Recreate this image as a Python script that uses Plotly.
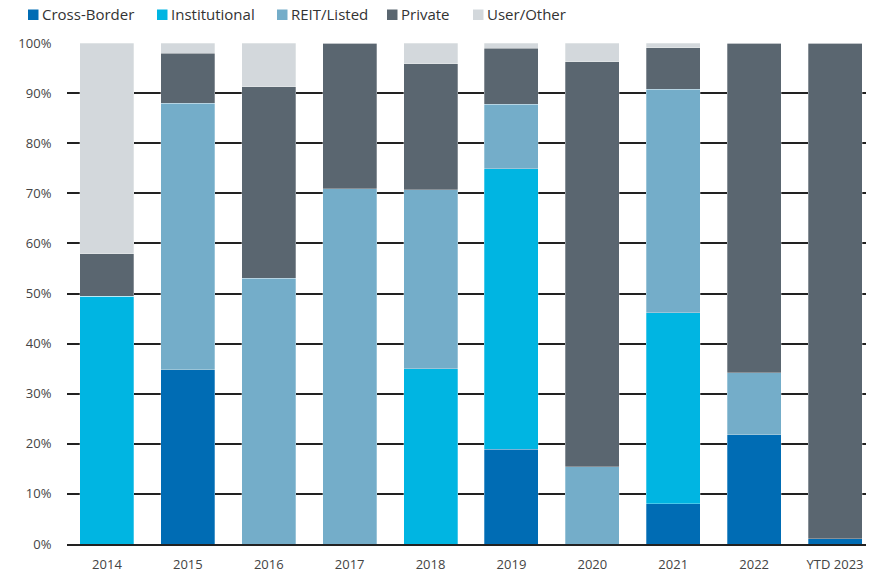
import plotly.graph_objects as go

years = ["2014", "2015", "2016", "2017", "2018", "2019", "2020", "2021", "2022", "YTD 2023"]
cross_border = [0, 34.8, 0, 0, 0, 18.9, 0, 8.0, 21.8, 1.0]
institutional = [49.5, 0, 0, 0, 35.0, 56.0, 0, 38.2, 0, 0]
reit_listed = [0, 53.2, 53.0, 70.9, 35.7, 12.9, 15.4, 44.6, 12.4, 0]
private = [8.4, 10.0, 38.3, 29.1, 25.2, 11.2, 80.9, 8.3, 65.8, 99.0]
user_other = [42.1, 2.0, 8.7, 0, 4.1, 1.0, 3.7, 0.9, 0, 0]

series = [
    ("Cross-Border", cross_border, "#006CB4"),
    ("Institutional", institutional, "#00B5E2"),
    ("REIT/Listed", reit_listed, "#74ADC9"),
    ("Private", private, "#5A6670"),
    ("User/Other", user_other, "#D3D8DC"),
]

# layout geometry (figure pixels == page pixels, body margin removed)
W, H = 879, 572
L, R, T, B = 67, 13, 43, 28
PW, PH = W - L - R, H - T - B


def px(xpage):
    return (xpage - L) / PW


def py(ypage):
    return 1 - (ypage - T) / PH


fig = go.Figure()
for name, vals, color in series:
    fig.add_trace(go.Bar(
        name=name, x=years, y=vals, showlegend=False,
        marker=dict(color=color, line=dict(color="rgba(255,255,255,0.4)", width=0.7)),
    ))

# compact legend: square swatch + label
legend_marker_x = [28, 157, 277, 387, 473]
shapes, annotations = [], []
for (name, _, color), mx in zip(series, legend_marker_x):
    shapes.append(dict(type="rect", xref="paper", yref="paper",
                       x0=px(mx), x1=px(mx + 10.5), y0=py(20), y1=py(9.5),
                       fillcolor=color, line=dict(width=0)))
    annotations.append(dict(text=name, xref="paper", yref="paper",
                            x=px(mx + 13), y=py(14.5), xanchor="left", yanchor="middle",
                            showarrow=False, borderpad=0,
                            font=dict(size=15, color="#333")))

fig.update_layout(
    barmode="stack",
    bargap=0.333,
    width=W, height=H,
    margin=dict(l=L, r=R, t=T, b=B, autoexpand=False),
    paper_bgcolor="white",
    plot_bgcolor="white",
    font=dict(family="Open Sans", size=13, color="#444"),
    showlegend=False,
    shapes=shapes,
    annotations=annotations,
    xaxis=dict(showgrid=False, showline=True, linecolor="#222", linewidth=1.5,
               range=[-0.494, 9.383],
               ticks="outside", ticklen=8, tickcolor="rgba(0,0,0,0)",
               tickfont=dict(size=13, color="#444"), automargin=False),
    yaxis=dict(range=[0, 100], dtick=10, ticksuffix="%", showgrid=True,
               gridcolor="#222", gridwidth=1.5, zeroline=False,
               tickfont=dict(size=13, color="#444"),
               ticks="outside", ticklen=12, tickcolor="rgba(0,0,0,0)",
               automargin=False),
)

fig.write_html("out.html", config={"displayModeBar": False},
               post_script="document.body.style.margin='0px';")
